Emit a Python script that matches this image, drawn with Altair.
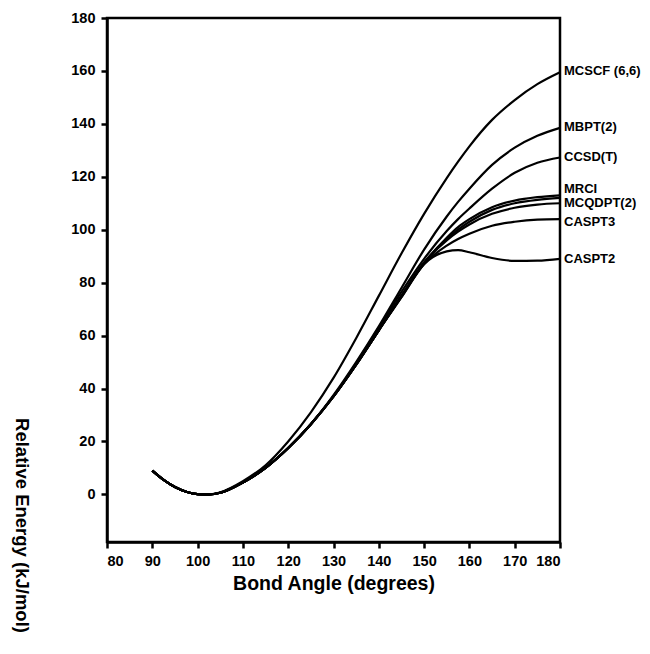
import altair as alt
import pandas as pd

# Bond angle grid (degrees)
angles = [90, 92.5, 95, 97.5, 100, 102.5, 105, 110, 115, 120, 125, 130, 135, 140,
          145, 150, 155, 157.5, 160, 165, 170, 175, 180]

# Relative energies (kJ/mol)
mcscf = [9, 5.5, 2.8, 1.0, 0.1, 0, 0.8, 5, 11, 20, 31, 44, 59, 75,
         91, 106, 119.5, 125.7, 131.5, 141.5, 149, 155, 159.5]
mbpt2 = [9, 5.5, 2.8, 1.0, 0.1, 0, 0.6, 4.5, 10, 17.5, 26.5, 37.5, 50, 63.5,
         78, 92.5, 105, 110.5, 115.5, 124.5, 131, 135.5, 138.5]
ccsdt = [9, 5.5, 2.8, 1.0, 0.1, 0, 0.6, 4.5, 10, 17.5, 26.5, 37, 49.5, 63,
         76.5, 89, 99.5, 104, 108, 115.5, 121.5, 125.3, 127.3]
mrci = [9, 5.5, 2.8, 1.0, 0.1, 0, 0.6, 4.5, 10, 17.5, 26.5, 37, 49, 62,
        75, 87.5, 97, 101, 104, 108.5, 111, 112.3, 113]
bundle = [9, 5.5, 2.8, 1.0, 0.1, 0, 0.6, 4.5, 10, 17.5, 26.5, 37, 49, 62,
          75, 87.5, 96.5, 100, 103, 107.5, 110, 111.3, 112]
mcqdpt2 = [9, 5.5, 2.8, 1.0, 0.1, 0, 0.6, 4.5, 10, 17.5, 26.5, 37, 49, 62,
           75, 87.5, 96, 99.3, 102, 106, 108.3, 109.5, 110]
caspt3 = [9, 5.5, 2.8, 1.0, 0.1, 0, 0.6, 4.5, 10, 17.5, 26.5, 37, 49, 62,
          74.5, 87, 94, 96.5, 98.5, 101.5, 103, 103.8, 104]
caspt2 = [9, 5.5, 2.8, 1.0, 0.1, 0, 0.6, 4.5, 10, 17.5, 26.5, 37, 49, 62,
          74.5, 87, 91.8, 92.3, 91.5, 89.3, 88.2, 88.3, 89]

series_keys = ["MCSCF (6,6)", "MBPT(2)", "CCSD(T)", "MRCI", "MRCI-2",
               "MCQDPT(2)", "CASPT3", "CASPT2"]
series_values = [mcscf, mbpt2, ccsdt, mrci, bundle, mcqdpt2, caspt3, caspt2]

# Right-hand labels
label_text = ["MCSCF (6,6)", "MBPT(2)", "CCSD(T)", "MRCI", "MCQDPT(2)", "CASPT3", "CASPT2"]
label_y = [160, 139, 127.3, 115.5, 110, 103, 88.9]
label_x = [180, 180, 180, 180, 180, 180, 180]

x_ticks = [80, 90, 100, 110, 120, 130, 140, 150, 160, 170, 180]
y_ticks = [0, 20, 40, 60, 80, 100, 120, 140, 160, 180]

rows = []
for key, vals in zip(series_keys, series_values):
    for a, v in zip(angles, vals):
        rows.append({"series": key, "angle": a, "energy": v})
df = pd.DataFrame(rows)
lab_df = pd.DataFrame({"label": label_text, "angle": label_x, "energy": label_y})

FONT = "Liberation Sans"
x_scale = alt.Scale(domain=[80, 180], nice=False, zero=False)
y_scale = alt.Scale(domain=[-18, 180], nice=False, zero=False)

lines = alt.Chart(df).mark_line(color="black", strokeWidth=2.2, interpolate="monotone").encode(
    x=alt.X("angle:Q", scale=x_scale,
            axis=alt.Axis(title="Bond Angle (degrees)", values=x_ticks, format="d",
                          titleY=47, titleBaseline="alphabetic", titleFontSize=19.5,
                          labelPadding=6)),
    y=alt.Y("energy:Q", scale=y_scale,
            axis=alt.Axis(title="Relative Energy (kJ/mol)", values=y_ticks, format="d",
                          titleAngle=90, titleX=-86, titleY=507, titleAlign="center",
                          titleBaseline="middle", titleFontSize=18.5, labelPadding=6)),
    detail="series:N",
)

labels = alt.Chart(lab_df).mark_text(
    align="left", baseline="middle", dx=4, font=FONT, fontSize=13,
    fontWeight="bold", color="black"
).encode(
    x=alt.X("angle:Q", scale=x_scale),
    y=alt.Y("energy:Q", scale=y_scale),
    text="label:N",
)

chart = alt.layer(lines, labels).properties(
    width=453, height=524,
    autosize=alt.AutoSizeParams(type="none"),
    padding={"left": 99, "top": 10, "right": 82, "bottom": 100},
).configure_view(
    stroke="black", strokeWidth=2.5
).configure_axis(
    grid=False, domainColor="black", domainWidth=2.5, tickColor="black",
    tickWidth=2.5, tickSize=6, labelFont=FONT, labelFontWeight="bold",
    labelFontSize=14.5, labelColor="black", titleFont=FONT, titleFontWeight="bold",
    titleColor="black"
)

chart.save("out.html", embed_options={"renderer": "svg", "actions": False})
